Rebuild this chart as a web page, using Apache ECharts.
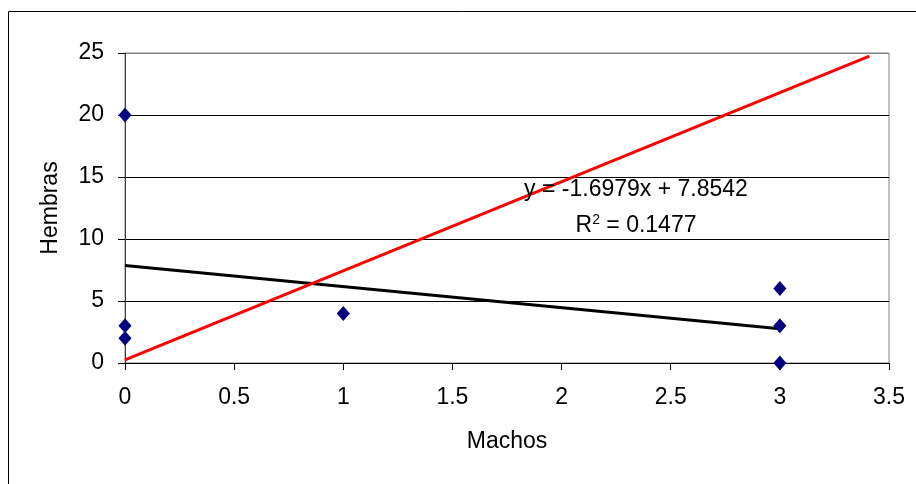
<!DOCTYPE html>
<html>
<head>
<meta charset="utf-8">
<script src="https://cdn.jsdelivr.net/npm/echarts@6/dist/echarts.min.js"></script>
<style>
  html, body { margin: 0; padding: 0; background: #fff; }
  #chart { width: 916px; height: 484px; }
</style>
</head>
<body>
<div id="chart"></div>
<script>
// puntos observados (machos, hembras)
const machos = [0, 0, 0, 1, 3, 3, 3];
const hembras = [20, 3, 2, 4, 6, 3, 0];

// linea de tendencia (Excel)
const pendiente = -1.6979;
const intercepto = 7.8542;
const r2 = 0.1477;
const tendenciaX = [0, 3];

// linea roja
const rojaX = [0, 3.41];
const rojaY = [0.25, 24.75];

const xTicks = [0, 3.5, 0.5];
const yTicks = [0, 25, 5];

const font = 'Liberation Sans, Arial, sans-serif';
const fs = 23;

const puntos = machos.map((x, i) => [x, hembras[i]]);
const tendencia = tendenciaX.map(x => [x, intercepto + pendiente * x]);
const roja = rojaX.map((x, i) => [x, rojaY[i]]);

const chart = echarts.init(document.getElementById('chart'));

chart.setOption({
  animation: false,
  backgroundColor: '#fff',
  grid: {
    left: 125, top: 53, right: 27, bottom: 121,
    show: true, borderColor: '#808080', borderWidth: 1
  },
  xAxis: {
    type: 'value',
    min: xTicks[0], max: xTicks[1], interval: xTicks[2],
    name: 'Machos', nameLocation: 'middle', nameGap: 67,
    nameTextStyle: { fontFamily: font, fontSize: fs, color: '#000' },
    axisLine: { show: true, onZero: false, lineStyle: { color: '#000', width: 1 } },
    axisTick: { show: true, length: 7, lineStyle: { color: '#000' } },
    axisLabel: { margin: 23, fontFamily: font, fontSize: fs, color: '#000' },
    splitLine: { show: false }
  },
  yAxis: {
    type: 'value',
    min: yTicks[0], max: yTicks[1], interval: yTicks[2],
    name: 'Hembras', nameLocation: 'middle', nameGap: 63,
    nameTextStyle: { fontFamily: font, fontSize: fs, color: '#000' },
    axisLine: { show: true, lineStyle: { color: '#404040', width: 1 } },
    axisTick: { show: true, length: 7, lineStyle: { color: '#000' } },
    axisLabel: { margin: 21, fontFamily: font, fontSize: fs, color: '#000' },
    splitLine: {
      show: true,
      lineStyle: { color: ['#000', '#000', '#000', '#000', '#000', '#808080'], width: 1 }
    }
  },
  series: [
    {
      type: 'line',
      data: tendencia,
      symbol: 'none',
      lineStyle: { color: '#000', width: 3 },
      z: 3
    },
    {
      type: 'line',
      data: roja,
      symbol: 'none',
      lineStyle: { color: '#ff0000', width: 3 },
      z: 4
    },
    {
      type: 'scatter',
      data: puntos,
      symbol: 'diamond',
      symbolSize: [13, 15],
      itemStyle: { color: '#000080', opacity: 1 },
      z: 5
    }
  ],
  graphic: [
    {
      type: 'rect',
      shape: { x: 8.5, y: 11.5, width: 1000, height: 1000 },
      style: { fill: null, stroke: '#000', lineWidth: 1 },
      z: -1, silent: true
    },
    {
      type: 'text',
      x: 636, y: 190,
      style: {
        text: 'y = ' + pendiente + 'x + ' + intercepto,
        fontFamily: font, fontSize: fs, fill: '#000',
        align: 'center', verticalAlign: 'middle'
      },
      z: 10
    },
    {
      type: 'text',
      x: 636, y: 226,
      style: {
        text: '{r|R}{s|2}{r| = ' + r2 + '}',
        rich: {
          r: { fontFamily: font, fontSize: fs, fill: '#000' },
          s: { fontFamily: font, fontSize: 14, fill: '#000', verticalAlign: 'top', padding: [0, 0, 12, 0] }
        },
        align: 'center', verticalAlign: 'middle'
      },
      z: 10
    }
  ]
});

window.addEventListener('resize', () => chart.resize());
</script>
</body>
</html>
